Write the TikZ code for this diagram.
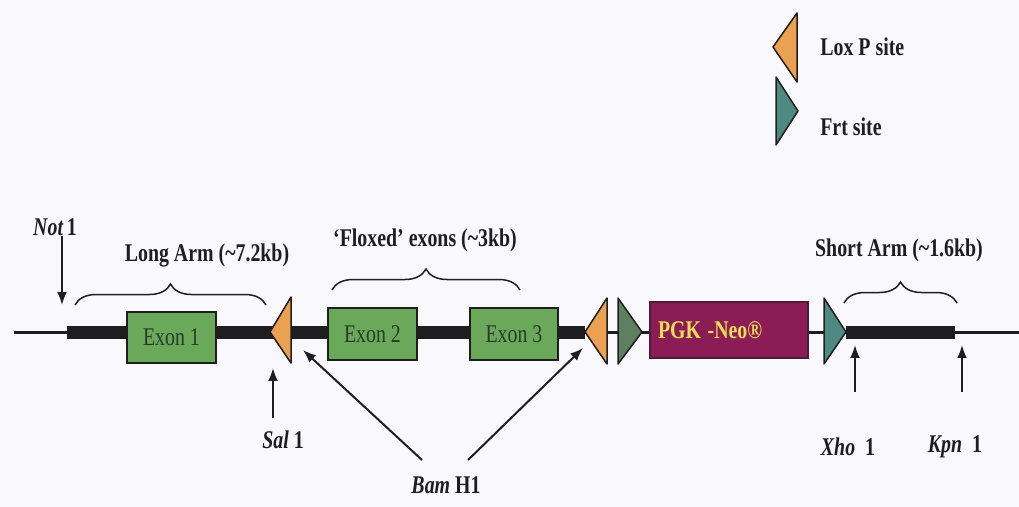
\documentclass[tikz,border=0pt]{standalone}
\usepackage{fontspec}
\setmainfont{Liberation Serif}
\usepackage{graphicx}
\usetikzlibrary{arrows.meta,positioning,decorations.pathreplacing}
\definecolor{paper}{RGB}{249,249,253}
\definecolor{ink}{RGB}{30,30,32}
\definecolor{exonink}{RGB}{40,58,40}
\definecolor{loxorange}{RGB}{236,160,82}
\definecolor{frtgreen}{RGB}{94,128,96}
\definecolor{frtteal}{RGB}{78,138,130}
\definecolor{exongreen}{RGB}{106,168,90}
\definecolor{neopurple}{RGB}{140,28,85}
\definecolor{neoyellow}{RGB}{236,222,84}
\newcommand{\narrow}[1]{\scalebox{0.78}[1]{#1}}

\begin{document}
\begin{tikzpicture}[x=0.02cm,y=-0.02cm,
  lbl/.style={font=\fontsize{14.5}{16}\selectfont\bfseries,text=ink,inner sep=0pt},
  exon/.style={draw=ink,line width=0.04cm,fill=exongreen,minimum width=1.78cm,
    minimum height=1.03cm,inner sep=0pt,font=\fontsize{14.5}{16}\selectfont,text=exonink},
  neo/.style={draw=ink!60!neopurple,line width=0.03cm,fill=neopurple,minimum height=1.12cm,
    text width=2.84cm,inner xsep=0.16cm,align=left,font=\fontsize{14.5}{16}\selectfont\bfseries,
    text=neoyellow},
  site/.style={draw=ink,line width=0.03cm,fill=#1,line join=round},
  dnaline/.style={draw=ink,line width=0.06cm},
  dnabar/.style={draw=ink,line width=0.26cm},
  arm/.style={draw=ink,line width=0.03cm,decorate,decoration={brace,amplitude=0.42cm}},
  arr/.style={-{Latex[length=2.6mm,width=2mm]},draw=ink,line width=0.04cm}]
\fill[paper] (0,0) rectangle (1019,507);
\useasboundingbox (0,0) rectangle (1019,507);

\coordinate (lox1) at (270,332);
\coordinate (lox2) at (585,332);
\coordinate (frt1) at (642,332);
\coordinate (frt2) at (846,332);

\draw[dnaline] (14,332) -- (1019,332);
\draw[dnabar] (67,332) -- (lox2);
\draw[dnabar] (frt2) -- (955,332);

\node[exon] (exon1) at (171.5,337.5) {\narrow{Exon 1}};
\node[exon] (exon2) at (372.5,334) {\narrow{Exon 2}};
\node[exon] (exon3) at (514,334) {\narrow{Exon 3}};
\node[neo] (neo) at (729,330) {\narrow{PGK -Neo\textregistered}};

\draw[site=loxorange] (lox1) -- ++(21,-35) -- ++(0,66) -- cycle;
\draw[site=loxorange] (lox2) -- ++(22,-34) -- ++(0,66) -- cycle;
\draw[site=frtgreen] (frt1) -- ++(-24,-34) -- ++(0,66) -- cycle;
\draw[site=frtteal] (frt2) -- ++(-22,-34) -- ++(0,66) -- cycle;

\coordinate (loxkeytip) at (773,47);
\coordinate (frtkeytip) at (798,111);
\draw[site=loxorange] (loxkeytip) -- ++(24,-34) -- ++(0,69) -- cycle;
\draw[site=frtteal] (frtkeytip) -- ++(-22,-34) -- ++(0,68) -- cycle;
\node[lbl,anchor=west] (loxkey) at (820,47) {\narrow{Lox P site}};
\node[lbl,anchor=west] (frtkey) at (820,127) {\narrow{Frt site}};

\node[lbl] (longlab) at (207,255) {\narrow{Long Arm (\textasciitilde7.2kb)}};
\node[lbl] (floxlab) at (425,240) {\narrow{`Floxed' exons (\textasciitilde3kb)}};
\node[lbl] (shortlab) at (899,250) {\narrow{Short Arm (\textasciitilde1.6kb)}};
\draw[arm] (75,305) -- (266,305);
\draw[arm] (332,290) -- (520,290);
\draw[arm] (844,303) -- (957,303);

\node[lbl] (notlab) at (55,227) {\narrow{\textit{Not}\,1}};
\node[lbl] (sallab) at (283,440) {\narrow{\textit{Sal} 1}};
\node[lbl] (bamlab) at (446,485) {\narrow{\textit{Bam} H1}};
\node[lbl] (xholab) at (848,447) {\narrow{\textit{Xho}\enspace1}};
\node[lbl] (kpnlab) at (955,447) {\narrow{\textit{Kpn}\enspace1}};

\coordinate (notsite) at (62,305);
\coordinate (salsite) at (273,368);
\coordinate (saltail) at (273,418);
\coordinate (bamsite1) at (303,350);
\coordinate (bamsite2) at (583,348);
\coordinate (bamtail1) at (422,460);
\coordinate (bamtail2) at (468,460);
\coordinate (xhosite) at (855,345);
\coordinate (xhotail) at (855,392);
\coordinate (kpnsite) at (962,345);
\coordinate (kpntail) at (962,392);

\draw[arr] (notlab.south -| notsite) -- (notsite);
\draw[arr] (saltail) -- (salsite);
\draw[arr] (bamtail1) -- (bamsite1);
\draw[arr] (bamtail2) -- (bamsite2);
\draw[arr] (xhotail) -- (xhosite);
\draw[arr] (kpntail) -- (kpnsite);
\end{tikzpicture}
\end{document}
